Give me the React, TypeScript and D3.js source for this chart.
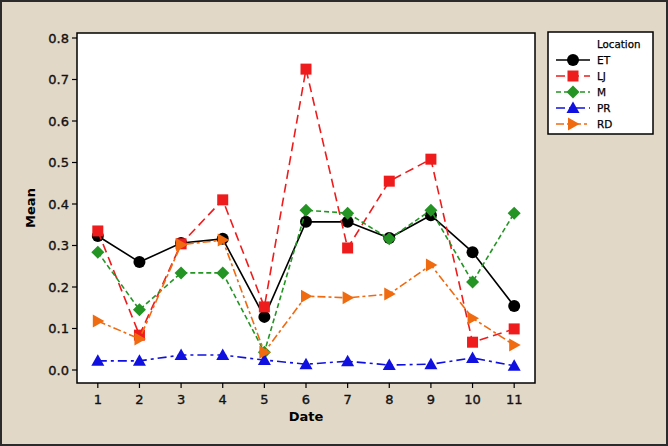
import React from "react";
import * as d3 from "d3";

const dates = [1, 2, 3, 4, 5, 6, 7, 8, 9, 10, 11];
const yTicks = [0, 0.1, 0.2, 0.3, 0.4, 0.5, 0.6, 0.7, 0.8];
const seriesNames = ["ET", "LJ", "M", "PR", "RD"];
const etValues = [0.323, 0.26, 0.306, 0.316, 0.128, 0.357, 0.357, 0.318, 0.373, 0.284, 0.154];
const ljValues = [0.335, 0.084, 0.304, 0.41, 0.152, 0.725, 0.294, 0.455, 0.508, 0.067, 0.099];
const mValues = [0.284, 0.145, 0.234, 0.234, 0.043, 0.385, 0.378, 0.316, 0.385, 0.212, 0.378];
const prValues = [0.022, 0.022, 0.036, 0.036, 0.024, 0.014, 0.021, 0.012, 0.014, 0.029, 0.01];
const rdValues = [0.118, 0.075, 0.302, 0.313, 0.043, 0.178, 0.174, 0.183, 0.253, 0.125, 0.06];

const W = 668, H = 446;
const plot = { left: 77, top: 33, right: 535, bottom: 383 };
const FONT = "DejaVu Sans, Verdana, sans-serif";

const styles: Record<string, { color: string; dash: string; shape: string }> = {
  ET: { color: "#000000", dash: "", shape: "circle" },
  LJ: { color: "#ee1c1c", dash: "9,5", shape: "square" },
  M: { color: "#249424", dash: "5,3", shape: "diamond" },
  PR: { color: "#1010e0", dash: "9,4,3,4", shape: "triangle" },
  RD: { color: "#f06a10", dash: "8,3,3,3", shape: "right" },
};

const seriesData: Record<string, number[]> = { ET: etValues, LJ: ljValues, M: mValues, PR: prValues, RD: rdValues };

function Marker({ shape, x, y, color }: { shape: string; x: number; y: number; color: string }) {
  const s = 5.5;
  if (shape === "circle") return <circle cx={x} cy={y} r={6} fill={color} />;
  if (shape === "square") return <rect x={x - s} y={y - s} width={2 * s} height={2 * s} fill={color} />;
  if (shape === "diamond")
    return <polygon points={`${x},${y - 6.5} ${x + 6.5},${y} ${x},${y + 6.5} ${x - 6.5},${y}`} fill={color} />;
  if (shape === "triangle")
    return <polygon points={`${x},${y - 6.5} ${x + 6.5},${y + 5} ${x - 6.5},${y + 5}`} fill={color} />;
  return <polygon points={`${x - 5},${y - 6.5} ${x + 6.5},${y} ${x - 5},${y + 6.5}`} fill={color} />;
}

export default function App() {
  const x = d3.scaleLinear().domain([0.5, 11.5]).range([plot.left, plot.right]);
  const y = d3.scaleLinear().domain([0, 0.8]).range([370, 38]);
  const line = d3
    .line<number>()
    .x((_, i) => x(dates[i]))
    .y((d) => y(d));

  return (
    <svg width={W} height={H} style={{ position: "absolute", left: 0, top: 0, display: "block" }}>
      <rect x={0} y={0} width={W} height={H} fill="#e1d8c7" />
      <rect x={1} y={1} width={W - 2} height={H - 2} fill="none" stroke="#2b2b2b" strokeWidth={2} />
      <rect
        x={plot.left}
        y={plot.top}
        width={plot.right - plot.left}
        height={plot.bottom - plot.top}
        fill="#ffffff"
        stroke="#000"
        strokeWidth={1.5}
      />
      {/* y axis */}
      {yTicks.map((t) => (
        <g key={t}>
          <line x1={plot.left - 5} x2={plot.left} y1={y(t)} y2={y(t)} stroke="#000" strokeWidth={1.2} />
          <text x={plot.left - 8} y={y(t)} dy="0.35em" textAnchor="end" fontFamily={FONT} fontSize={13} fill="#111" stroke="#111" strokeWidth={0.35}>
            {d3.format(".1f")(t)}
          </text>
        </g>
      ))}
      {/* x axis */}
      {dates.map((d) => (
        <g key={d}>
          <line x1={x(d)} x2={x(d)} y1={plot.bottom} y2={plot.bottom + 5} stroke="#000" strokeWidth={1.2} />
          <text x={x(d)} y={plot.bottom + 21} textAnchor="middle" fontFamily={FONT} fontSize={13} fill="#111" stroke="#111" strokeWidth={0.35}>
            {d}
          </text>
        </g>
      ))}
      <text x={(plot.left + plot.right) / 2} y={421} textAnchor="middle" fontFamily={FONT} fontSize={13} fontWeight="bold">
        Date
      </text>
      <text
        transform={`translate(35,${(plot.top + plot.bottom) / 2}) rotate(-90)`}
        textAnchor="middle"
        fontFamily={FONT}
        fontSize={13}
        fontWeight="bold"
      >
        Mean
      </text>
      {/* series */}
      {seriesNames.map((name) => {
        const st = styles[name];
        const vals = seriesData[name];
        return (
          <g key={name}>
            <path d={line(vals) || ""} fill="none" stroke={st.color} strokeWidth={1.6} strokeDasharray={st.dash} />
            {vals.map((v, i) => (
              <Marker key={i} shape={st.shape} x={x(dates[i])} y={y(v)} color={st.color} />
            ))}
          </g>
        );
      })}
      {/* legend */}
      <rect x={548} y={32} width={105} height={102} fill="#fff" stroke="#000" strokeWidth={1.5} />
      <text x={597} y={44} dy="0.35em" fontFamily={FONT} fontSize={10.3} fill="#000" stroke="#000" strokeWidth={0.25}>
        Location
      </text>
      {seriesNames.map((name, i) => {
        const st = styles[name];
        const ly = 60 + i * 16;
        return (
          <g key={name}>
            <line x1={556} x2={590} y1={ly} y2={ly} stroke={st.color} strokeWidth={1.6} strokeDasharray={st.dash} />
            <Marker shape={st.shape} x={573} y={ly} color={st.color} />
            <text x={597} y={ly} dy="0.35em" fontFamily={FONT} fontSize={10.5} fill="#000" stroke="#000" strokeWidth={0.25}>
              {name}
            </text>
          </g>
        );
      })}
    </svg>
  );
}
